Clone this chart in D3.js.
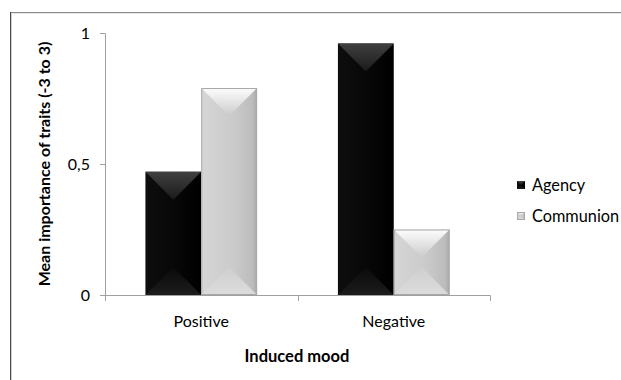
<!DOCTYPE html>
<html><head><meta charset="utf-8">
<script src="https://cdn.jsdelivr.net/npm/d3@7"></script>
<style>body{margin:0;background:#fff}svg{display:block;font-family:Lato,"Open Sans",sans-serif}</style>
</head><body><svg id="c" width="621" height="380"></svg>
<script>
const categories = ["Positive", "Negative"];
const seriesNames = ["Agency", "Communion"];
const agency = [0.47, 0.96];
const communion = [0.79, 0.25];
const yTicks = [0, 0.5, 1];
const yTickLabels = ["0", "0,5", "1"];

const svg = d3.select("#c");
const W = 621, H = 380;
const m = {l:105, r:131, t:33, b:85};
const x = d3.scaleBand().domain(categories).range([m.l, W - m.r]).paddingInner(0.42).paddingOuter(0.21);
const x1 = d3.scaleBand().domain(seriesNames).range([0, x.bandwidth()]);
const y = d3.scaleLinear().domain([0, 1]).range([H - m.b, m.t]);

// outer border
svg.append("line").attr("x1",10).attr("x2",W).attr("y1",12.5).attr("y2",12.5).attr("stroke","#8a8a8a");
svg.append("line").attr("x1",11).attr("x2",W).attr("y1",13.5).attr("y2",13.5).attr("stroke","#e8e8e8");
svg.append("line").attr("x1",10.5).attr("x2",10.5).attr("y1",12).attr("y2",H).attr("stroke","#4a4a4a");
svg.append("line").attr("x1",11.5).attr("x2",11.5).attr("y1",13).attr("y2",H).attr("stroke","#d0d0d0");

const defs = svg.append("defs");
function lg(id, stops, vertical){
  const g = defs.append("linearGradient").attr("id", id)
    .attr("x1",0).attr("y1",0).attr("x2", vertical?0:1).attr("y2", vertical?1:0);
  stops.forEach(([o,c]) => g.append("stop").attr("offset",o).attr("stop-color",c));
}
const styles = {
  Agency: {base:[["0%","#0e0e0e"],["45%","#080808"],["100%","#000"]], top:[["0%","#404040"],["100%","#1a1a1a"]], bottom:[["0%","#0a0a0a"],["100%","#1c1c1c"]], edge:"none"},
  Communion: {base:[["0%","#d6d6d6"],["60%","#cacaca"],["92%","#bcbcbc"],["100%","#a8a8a8"]], top:[["0%","#fdfdfd"],["100%","#cbcbcb"]], bottom:[["0%","#cfcfcf"],["100%","#dcdcdc"]], edge:"#a8a8a8"}
};
seriesNames.forEach(s => {
  lg("gb"+s, styles[s].base, false);
  lg("gt"+s, styles[s].top, true);
  lg("gd"+s, styles[s].bottom, true);
});

function bevel(g, s, X0, X1, Y0, Y1){
  const w = X1 - X0, h = Y1 - Y0, d = Math.min(w/2, h/2);
  const st = styles[s];
  const poly = (pts, fill) => g.append("polygon").attr("points", pts.map(p=>p.join(",")).join(" ")).attr("fill", fill);
  poly([[X0,Y0],[X1,Y0],[X1,Y1],[X0,Y1]], `url(#gb${s})`);
  poly([[X0,Y1],[X1,Y1],[X1-d,Y1-d],[X0+d,Y1-d]], `url(#gd${s})`);
  poly([[X0,Y0],[X1,Y0],[X1-d,Y0+d],[X0+d,Y0+d]], `url(#gt${s})`);
  if (st.edge !== "none") g.append("rect").attr("x",X0+0.5).attr("y",Y0+0.5).attr("width",w-1).attr("height",h-1).attr("fill","none").attr("stroke",st.edge);
}

const data = categories.map((c,i)=>({cat:c, vals:{Agency:agency[i], Communion:communion[i]}}));
const bars = svg.append("g");
data.forEach(d => seriesNames.forEach(s => {
  const X0 = x(d.cat) + x1(s), X1 = X0 + x1.bandwidth();
  bevel(bars.append("g"), s, X0, X1, y(d.vals[s]), y(0));
}));

// y axis
const ya = svg.append("g").attr("transform",`translate(${m.l},0)`)
  .call(d3.axisLeft(y).tickValues(yTicks).tickSize(5).tickPadding(10).tickFormat((d,i)=>yTickLabels[i]));
ya.select(".domain").attr("stroke","#a0a0a0").attr("d",`M-5,${y(1)}.5H0.5V${y(0)}`);
ya.selectAll(".tick line").attr("stroke","#a0a0a0");
ya.selectAll("text").attr("font-size",16).attr("fill","#000").attr("font-family","Lato");

// x axis
const xa = svg.append("g").attr("transform",`translate(0,${y(0)})`)
  .call(d3.axisBottom(x).tickSize(0).tickPadding(21));
xa.select(".domain").attr("stroke","#a0a0a0").attr("d",`M${m.l},0.5H${W-m.r}.5V6`);
xa.selectAll("text").attr("font-size",16).attr("fill","#000").attr("font-family","Lato");
const mid = (x(categories[0]) + x.bandwidth() + x(categories[1]))/2;
xa.append("line").attr("x1",Math.round(mid)+0.5).attr("x2",Math.round(mid)+0.5).attr("y1",0).attr("y2",6).attr("stroke","#a0a0a0");
xa.append("line").attr("x1",m.l+0.5).attr("x2",m.l+0.5).attr("y1",0).attr("y2",6).attr("stroke","#a0a0a0");

// axis titles
svg.append("text").attr("transform",`translate(50,${(y(0)+y(1))/2}) rotate(-90)`).attr("text-anchor","middle")
  .attr("font-size",16).attr("font-weight","bold").attr("fill","#000").text("Mean importance of traits (-3 to 3)");
svg.append("text").attr("x",297).attr("y",362).attr("text-anchor","middle")
  .attr("font-size",16.5).attr("font-weight","bold").attr("fill","#000").text("Induced mood");

// legend
const leg = svg.append("g").attr("transform","translate(517,185)");
seriesNames.forEach((s,i)=>{
  const g = leg.append("g").attr("transform",`translate(0,${i*31})`);
  bevel(g, s, 0, 8, -4, 4);
  g.append("text").attr("x",15).attr("y",5.5).attr("font-size",16.3).attr("fill","#000").text(s);
});
</script></body></html>
